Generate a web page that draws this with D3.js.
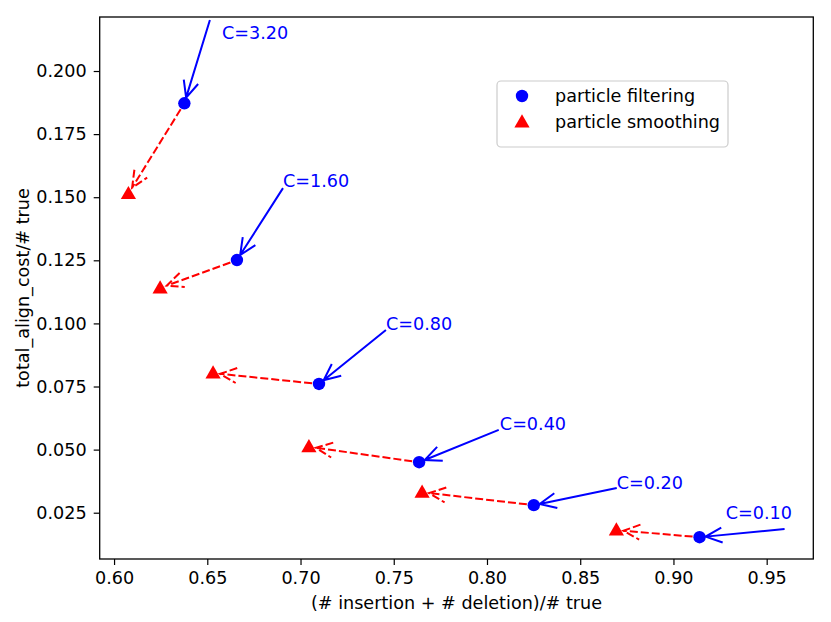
<!DOCTYPE html>
<html>
<head>
<meta charset="utf-8">
<script src="https://cdn.jsdelivr.net/npm/d3@7"></script>
<style>
  html, body { margin: 0; padding: 0; background: white; }
  text { font-family: "DejaVu Sans", sans-serif; }
</style>
</head>
<body>
<div id="container"></div>
<script>
// Values
const cLabels = ['C=3.20', 'C=1.60', 'C=0.80', 'C=0.40', 'C=0.20', 'C=0.10'];
const filterX = [0.6377, 0.6659, 0.7099, 0.7636, 0.8251, 0.9140];
const filterY = [0.1872, 0.1251, 0.0760, 0.0450, 0.0280, 0.0153];
const smoothX = [0.6077, 0.6247, 0.6531, 0.7045, 0.7652, 0.8694];
const smoothY = [0.1514, 0.1140, 0.0803, 0.0511, 0.0331, 0.0181];
// where each label sits and where its arrow starts
const textX = [0.6579, 0.6906, 0.7458, 0.8069, 0.8696, 0.9280];
const textY = [0.2151, 0.1564, 0.0998, 0.0601, 0.0368, 0.0249];
const tailX = [0.6514, 0.6906, 0.7458, 0.8063, 0.8696, 0.9596];
const tailY = [0.2202, 0.1536, 0.0974, 0.0578, 0.0348, 0.0185];

const xTicks = [0.60, 0.65, 0.70, 0.75, 0.80, 0.85, 0.90, 0.95];
const yTicks = [0.025, 0.050, 0.075, 0.100, 0.125, 0.150, 0.175, 0.200];
const xDomain = [0.5923, 0.975];
const yDomain = [0.00666, 0.2214];

const WIDTH = 831;
const HEIGHT = 622;
const LEFT = 99.7, RIGHT = 813.3, TOP = 17, BOTTOM = 559;
const FONT_SIZE = 17.6;

const svg = d3.select('#container')
  .append('svg')
  .attr('width', WIDTH)
  .attr('height', HEIGHT)
  .style('background-color', 'white');

const x = d3.scaleLinear().domain(xDomain).range([LEFT, RIGHT]);
const y = d3.scaleLinear().domain(yDomain).range([BOTTOM, TOP]);

// Axes
const xAxis = svg.append('g')
  .attr('transform', `translate(0,${BOTTOM})`)
  .call(d3.axisBottom(x).tickValues(xTicks).tickFormat(d3.format('.2f'))
    .tickSize(6).tickPadding(7).tickSizeOuter(0));

const yAxis = svg.append('g')
  .attr('transform', `translate(${LEFT},0)`)
  .call(d3.axisLeft(y).tickValues(yTicks).tickFormat(d3.format('.3f'))
    .tickSize(6).tickPadding(7).tickSizeOuter(0));

[xAxis, yAxis].forEach(a => {
  a.select('.domain').remove();
  a.selectAll('.tick line').style('stroke', 'black').style('stroke-width', 1.2);
  a.selectAll('.tick text')
    .style('font-family', '"DejaVu Sans", sans-serif')
    .style('font-size', FONT_SIZE + 'px')
    .style('fill', 'black');
});

svg.append('rect')
  .attr('x', LEFT)
  .attr('y', TOP)
  .attr('width', RIGHT - LEFT)
  .attr('height', BOTTOM - TOP)
  .style('fill', 'none')
  .style('stroke', 'black')
  .style('stroke-width', 1.3);

svg.append('text')
  .attr('x', (LEFT + RIGHT) / 2)
  .attr('y', 609)
  .attr('text-anchor', 'middle')
  .style('font-size', FONT_SIZE + 'px')
  .text('(# insertion + # deletion)/# true');

svg.append('text')
  .attr('transform', `translate(29,${(TOP + BOTTOM) / 2}) rotate(-90)`)
  .attr('text-anchor', 'middle')
  .style('font-size', FONT_SIZE + 'px')
  .text('total_align_cost/# true');

// Draws a straight arrow with an open head, shrunk at both ends
function drawArrow(x1, y1, x2, y2, shrinkA, shrinkB, color, dashed) {
  const dx = x2 - x1, dy = y2 - y1;
  const len = Math.sqrt(dx * dx + dy * dy);
  const ux = dx / len, uy = dy / len;
  const sx = x1 + ux * shrinkA, sy = y1 + uy * shrinkA;
  const ex = x2 - ux * shrinkB, ey = y2 - uy * shrinkB;

  const headLen = 16.5, headHalf = 7.5;
  const bx = ex - ux * headLen, by = ey - uy * headLen;
  const px = -uy * headHalf, py = ux * headHalf;

  const path = `M${sx},${sy}L${ex},${ey}` +
    `M${bx + px},${by + py}L${ex},${ey}L${bx - px},${by - py}`;

  svg.append('path')
    .attr('d', path)
    .style('fill', 'none')
    .style('stroke', color)
    .style('stroke-width', 2)
    .style('stroke-dasharray', dashed ? '8,3' : null);
}

// Red dashed arrows: filtering -> smoothing
filterX.forEach((fx, i) => {
  drawArrow(x(fx), y(filterY[i]), x(smoothX[i]), y(smoothY[i]), 7, 7, 'red', true);
});

// Blue annotation arrows: label -> filtering point
cLabels.forEach((label, i) => {
  drawArrow(x(tailX[i]), y(tailY[i]), x(filterX[i]), y(filterY[i]), 0, 6, 'blue', false);

  svg.append('text')
    .attr('x', x(textX[i]))
    .attr('y', y(textY[i]))
    .attr('dy', '0.36em')
    .style('font-size', FONT_SIZE + 'px')
    .style('fill', 'blue')
    .text(label);
});

const triangle = d3.symbol().type(d3.symbolTriangle).size(100);

svg.append('g').selectAll('path')
  .data(smoothX)
  .join('path')
  .attr('d', triangle)
  .attr('transform', (d, i) => `translate(${x(d)},${y(smoothY[i]) + 1})`)
  .style('fill', 'red');

svg.append('g').selectAll('circle')
  .data(filterX)
  .join('circle')
  .attr('cx', d => x(d))
  .attr('cy', (d, i) => y(filterY[i]))
  .attr('r', 6.2)
  .style('fill', 'blue');

// Legend
const legend = svg.append('g');

legend.append('rect')
  .attr('x', 497)
  .attr('y', 81)
  .attr('width', 231)
  .attr('height', 66)
  .attr('rx', 4)
  .style('fill', 'white')
  .style('fill-opacity', 0.8)
  .style('stroke', '#cccccc')
  .style('stroke-width', 1.2);

legend.append('circle')
  .attr('cx', 522)
  .attr('cy', 96)
  .attr('r', 6.2)
  .style('fill', 'blue');

legend.append('path')
  .attr('d', triangle)
  .attr('transform', 'translate(522,123)')
  .style('fill', 'red');

legend.append('text')
  .attr('x', 555)
  .attr('y', 96)
  .attr('dy', '0.36em')
  .style('font-size', FONT_SIZE + 'px')
  .text('particle filtering');

legend.append('text')
  .attr('x', 555)
  .attr('y', 122)
  .attr('dy', '0.36em')
  .style('font-size', FONT_SIZE + 'px')
  .text('particle smoothing');
</script>
</body>
</html>
